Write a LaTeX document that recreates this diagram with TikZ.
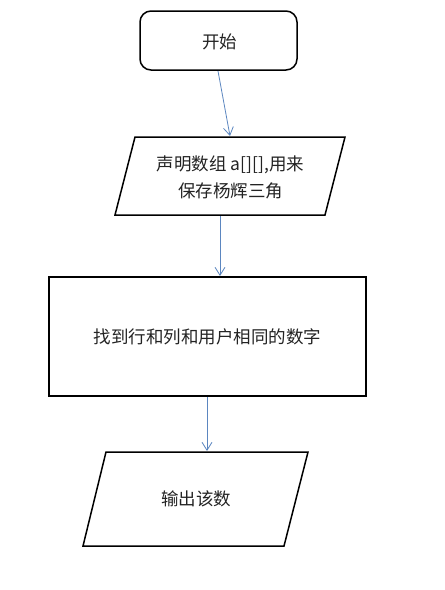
\documentclass[tikz,border=0pt]{standalone}
\usepackage{fontspec}
\newfontfamily\cjk{Noto Sans CJK SC}
\usetikzlibrary{arrows.meta}
\definecolor{arrowblue}{RGB}{91,134,192}
\definecolor{txt}{RGB}{35,35,35}
\tikzset{
  boxline/.style={draw=black, line width=1.5pt, line join=miter},
  thickbox/.style={draw=black, line width=2.5pt},
  lbl/.style={inner sep=0pt, align=center, text=txt, font=\cjk\fontsize{17.5}{27}\selectfont},
  flow/.style={draw=arrowblue, line width=0.8pt, -{Straight Barb[length=8pt,width=10pt]}}
}
\begin{document}
\begin{tikzpicture}[x=1pt,y=-1pt]
\useasboundingbox[fill=white] (0,0) rectangle (445,590);
% start box
\draw[boxline, rounded corners=11pt] (140,11) rectangle (297,70);
\node[lbl] (start) at (219.5,42) {开始};
% declare parallelogram
\draw[boxline] (135,137) -- (345,137) -- (325,215) -- (115,215) -- cycle;
\node[lbl] (decl) at (230.5,177) {声明数组 a[][],用来\\保存杨辉三角};
% find rectangle
\draw[thickbox] (49,277) rectangle (366,396);
\node[lbl] (find) at (207.5,337) {找到行和列和用户相同的数字};
% output parallelogram
\draw[boxline] (106,452) -- (308,452) -- (284,546) -- (83,546) -- cycle;
\node[lbl] (out) at (196,499) {输出该数};
% connector anchors on the shape edges
\coordinate (startB) at (218,71);
\coordinate (declT) at (230,136);
\coordinate (declB) at (220,216);
\coordinate (findT) at (220,276);
\coordinate (findB) at (207,397);
\coordinate (outT) at (207,451);
\draw[flow] (startB) -- (declT);
\draw[flow] (declB) -- (findT);
\draw[flow] (findB) -- (outT);
\end{tikzpicture}
\end{document}
